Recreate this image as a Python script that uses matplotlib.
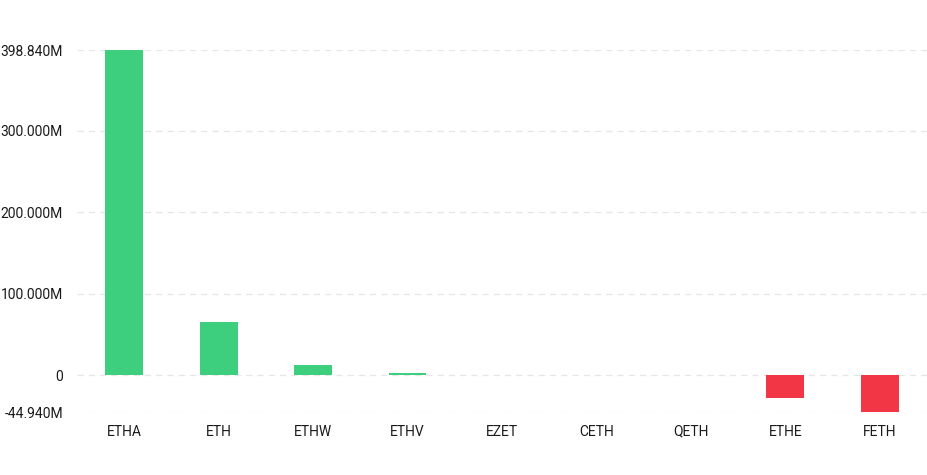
import matplotlib.pyplot as plt
from matplotlib.ticker import FixedLocator

tickers = ["ETHA", "ETH", "ETHW", "ETHV", "EZET", "CETH", "QETH", "ETHE", "FETH"]
flows_m = [398.84, 65.1, 12.9, 2.7, 0, 0, 0, -27.9, -44.94]

y_ticks = [-44.94, 0, 100, 200, 300, 398.84]
y_labels = ["-44.940M", "0", "100.000M", "200.000M", "300.000M", "398.840M"]

green = "#3ecf7e"
red = "#f23645"
colors = [green if v >= 0 else red for v in flows_m]

plt.rcParams['font.family'] = ['Roboto', 'DejaVu Sans']

fig = plt.figure(figsize=(9.27, 4.75), dpi=100)
ax = fig.add_axes([0.083, 0.1326, 0.917, 0.762])

ax.bar(range(len(tickers)), flows_m, width=0.4, color=colors, zorder=3)

ax.set_xlim(-0.5, len(tickers) - 0.5)
ax.set_ylim(min(flows_m), max(flows_m))
ax.yaxis.set_major_locator(FixedLocator(y_ticks))
ax.set_yticklabels(y_labels)
ax.set_xticks(range(len(tickers)))
ax.set_xticklabels(tickers)

ax.grid(axis='y', color='#e6e6e6', linestyle=(0, (5, 4)), linewidth=0.9, zorder=0)
for s in ax.spines.values():
    s.set_visible(False)
ax.tick_params(axis='both', length=0, labelsize=10, colors='#1a1a1a')
ax.tick_params(axis='y', pad=10)
ax.tick_params(axis='x', pad=9)

fig.savefig("out.png", dpi=100)
